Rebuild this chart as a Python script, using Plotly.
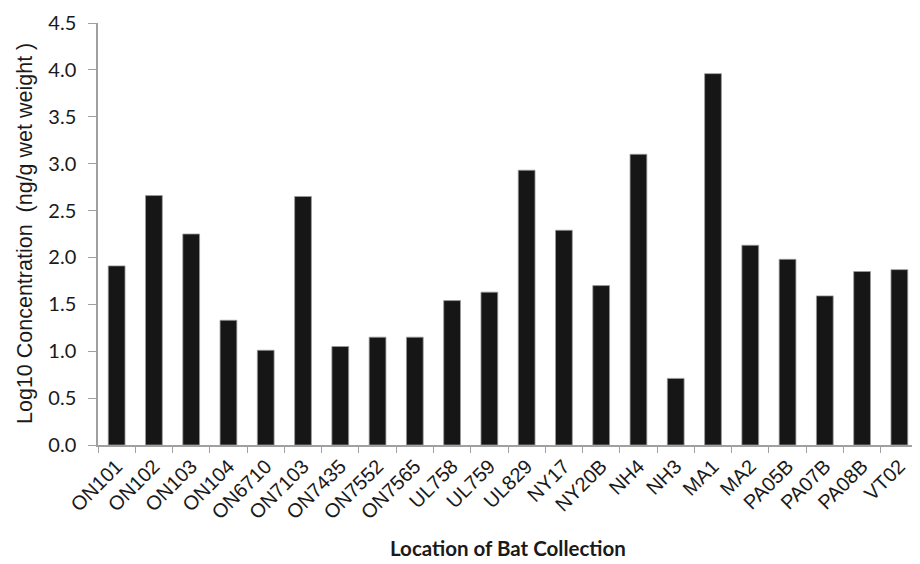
import plotly.graph_objects as go

categories = ["ON101", "ON102", "ON103", "ON104", "ON6710", "ON7103", "ON7435",
              "ON7552", "ON7565", "UL758", "UL759", "UL829", "NY17", "NY20B",
              "NH4", "NH3", "MA1", "MA2", "PA05B", "PA07B", "PA08B", "VT02"]
values = [1.91, 2.66, 2.25, 1.33, 1.01, 2.65, 1.05,
          1.15, 1.15, 1.54, 1.63, 2.93, 2.29, 1.70,
          3.10, 0.71, 3.96, 2.13, 1.98, 1.59, 1.85, 1.87]
y_ticks = [0.0, 0.5, 1.0, 1.5, 2.0, 2.5, 3.0, 3.5, 4.0, 4.5]

fig = go.Figure()
fig.add_trace(go.Bar(
    x=categories, y=values,
    marker=dict(color="#161616", line=dict(color="#9a9a9a", width=0.8)),
    width=0.45,
))

fig.update_layout(
    width=912, height=556,
    margin=dict(l=90, r=2, t=13, b=119),
    plot_bgcolor="white", paper_bgcolor="white",
    showlegend=False,
    font=dict(family="Liberation Sans, Arial", color="#1a1a1a"),
    annotations=[
        dict(text="<b>Location of Bat Collection</b>", xref="paper", yref="paper",
             x=0.5, y=0, xanchor="center", yanchor="middle", yshift=-103,
             showarrow=False, font=dict(family="Lato", size=20.5, color="#1a1a1a")),
        dict(text="Log10 Concentration&nbsp; (ng/g wet weight )", xref="paper", yref="paper",
             x=0, y=0.5, xanchor="center", yanchor="middle", xshift=-73, textangle=-90,
             showarrow=False, font=dict(family="Liberation Sans, Arial", size=21.5, color="#1a1a1a")),
    ],
)
fig.update_xaxes(
    type="category",
    showline=True, linecolor="#a0a0a0", linewidth=1.5,
    ticks="outside", tickson="boundaries", ticklen=6, tickcolor="#a0a0a0", tickwidth=1.2,
    tickangle=-45,
    tickfont=dict(family="Liberation Sans, Arial", size=20, color="#1a1a1a"),
    showgrid=False, zeroline=False,
)
fig.update_yaxes(
    range=[0, 4.5], tickvals=y_ticks,
    ticktext=[f"{v:.1f}" for v in y_ticks],
    showline=True, linecolor="#a0a0a0", linewidth=1.5,
    ticks="outside", ticklen=8, tickcolor="#a0a0a0", tickwidth=1.2,
    ticklabelstandoff=8,
    tickfont=dict(family="Lato", size=20, color="#1a1a1a"),
    showgrid=False, zeroline=False,
)

fig.write_html("out.html")
